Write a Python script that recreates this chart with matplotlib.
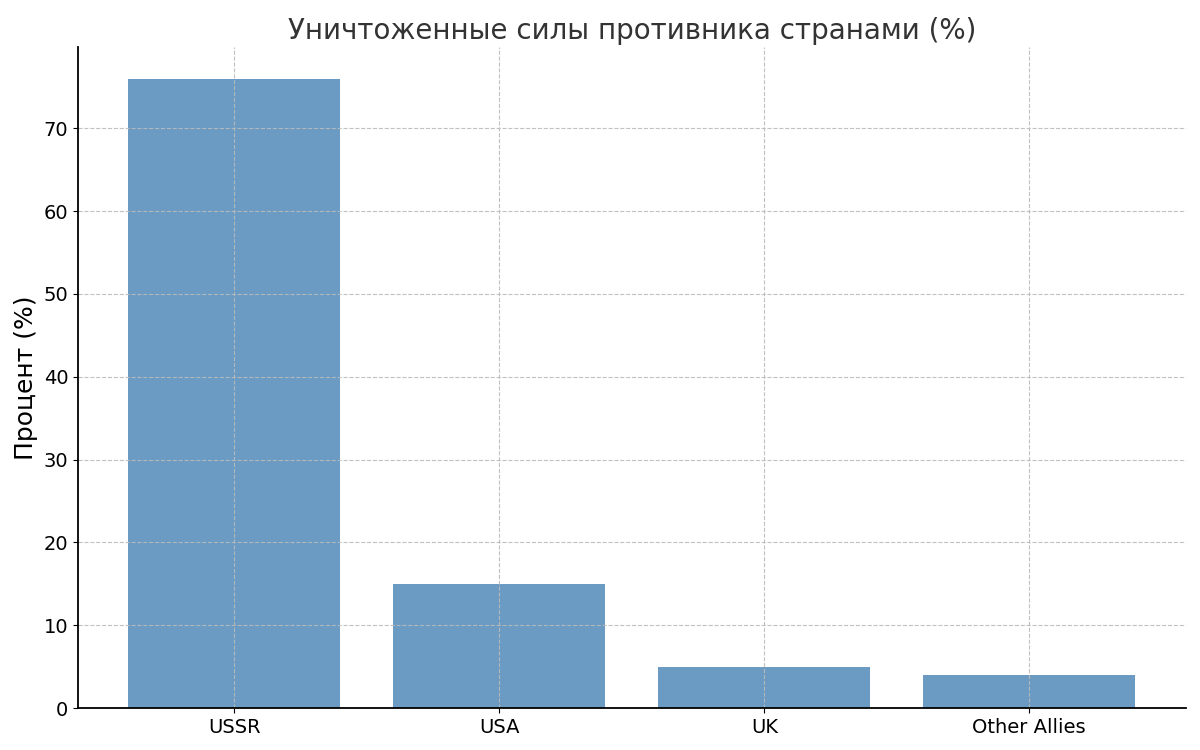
import matplotlib.pyplot as plt

countries = ['USSR', 'USA', 'UK', 'Other Allies']
percent = [76, 15, 5, 4]

fig, ax = plt.subplots(figsize=(12, 7.5), dpi=100)
ax.bar(countries, percent, color='steelblue', alpha=0.8)
ax.set_title('Уничтоженные силы противника странами (%)', fontsize=20, color='#333333')
ax.set_ylabel('Процент (%)', fontsize=18)
ax.tick_params(labelsize=14)
ax.grid(True, linestyle='--', color='#bbbbbb', alpha=0.9)
ax.spines['top'].set_visible(False)
ax.spines['right'].set_visible(False)
ax.spines['left'].set_linewidth(1.3)
ax.spines['bottom'].set_linewidth(1.3)
fig.subplots_adjust(left=0.065, right=0.988, top=0.937, bottom=0.056)
fig.savefig('out.png')
